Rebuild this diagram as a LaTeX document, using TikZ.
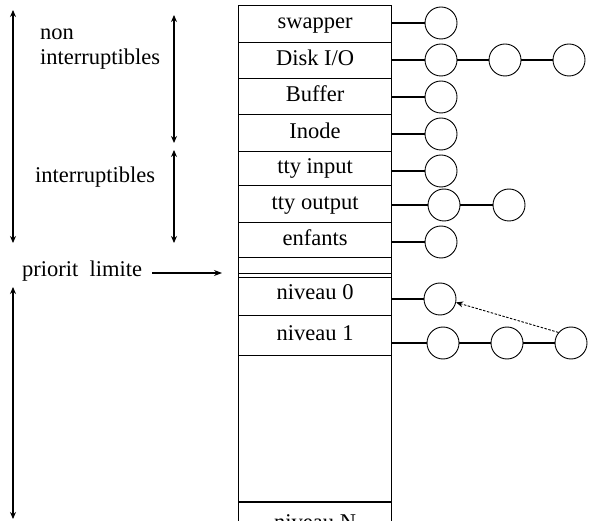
\documentclass[tikz,border=0pt]{standalone}
\usepackage{fontspec}
\setmainfont{Liberation Serif}
\usetikzlibrary{arrows.meta}
\begin{document}
\begin{tikzpicture}[x=1pt,y=-1pt,
  every node/.style={font=\fontsize{22.5}{26}\selectfont},
  row/.style={draw, line width=1.2pt, minimum width=153pt, inner sep=0pt,
    text height=15pt, text depth=5pt, anchor=north west},
  proc/.style={draw, circle, minimum size=32pt, inner sep=0pt, line width=0.9pt},
  link/.style={line width=1.1pt},
  span/.style={line width=1.3pt, {Stealth[length=7pt,width=6pt]}-{Stealth[length=7pt,width=6pt]}},
  tip/.style={line width=1.1pt, -{Stealth[length=8pt,width=6pt]}},
  label/.style={anchor=base west, inner sep=0pt},
]
\clip (0,0) rectangle (589,521);

% priority table
\node[row, minimum height=36.7pt] (swapper) at (238,5)   {swapper};
\node[row, minimum height=36.3pt] (disk)    at (238,41.7){Disk I/O};
\node[row, minimum height=36pt]   (buffer)  at (238,78)  {Buffer};
\node[row, minimum height=37pt]   (inode)   at (238,114) {Inode};
\node[row, minimum height=34pt]   (ttyin)   at (238,151) {tty input};
\node[row, minimum height=37pt]   (ttyout)  at (238,185) {tty output};
\node[row, minimum height=35pt]   (enfants) at (238,222) {enfants};
\node[row, minimum height=16pt]   (limit)   at (238,257) {};
\node[row, minimum height=42pt]   (niv0)    at (238,273) {niveau 0};
\node[row, minimum height=40pt]   (niv1)    at (238,315) {niveau 1};
\node[row, minimum height=147pt]  (gap)     at (238,355) {};
\node[row, minimum height=44pt]   (nivN)    at (238,502) {niveau N};
\draw[line width=2.2pt] (nivN.north west) -- (nivN.north east);

% process queues
\node[proc] (sw1) at (441,23)  {};
\node[proc] (dk1) at (441,60)  {};
\node[proc] (dk2) at (505,60)  {};
\node[proc] (dk3) at (569,60)  {};
\node[proc] (bf1) at (441,97)  {};
\node[proc] (in1) at (441,134) {};
\node[proc] (ti1) at (441,171) {};
\node[proc] (to1) at (444,205) {};
\node[proc] (to2) at (509,205) {};
\node[proc] (en1) at (441,242) {};
\node[proc] (n01) at (440,299) {};
\node[proc] (n11) at (443,343) {};
\node[proc] (n12) at (507,343) {};
\node[proc] (n13) at (571,343) {};

\draw[link] (swapper.east |- sw1) -- (sw1);
\draw[link] (disk.east |- dk1) -- (dk1) -- (dk2) -- (dk3);
\draw[link] (buffer.east |- bf1) -- (bf1);
\draw[link] (inode.east |- in1) -- (in1);
\draw[link] (ttyin.east |- ti1) -- (ti1);
\draw[link] (ttyout.east |- to1) -- (to1) -- (to2);
\draw[link] (enfants.east |- en1) -- (en1);
\draw[link] (niv0.east |- n01) -- (n01);
\draw[link] (niv1.east |- n11) -- (n11) -- (n12) -- (n13);
\draw[line width=0.9pt, dash pattern=on 2.5pt off 1.5pt, -{Stealth[length=7pt,width=6pt]}]
  (n13.140) -- (n01.-12);

% priority ranges on the left
\coordinate (a1) at (13,10);   \coordinate (a2) at (13,243);
\coordinate (b1) at (174,15);  \coordinate (b2) at (174,143);
\coordinate (c1) at (174,150); \coordinate (c2) at (174,243);
\coordinate (d1) at (13,287);  \coordinate (d2) at (13,519);
\draw[span] (a1) -- (a2);
\draw[span] (b1) -- (b2);
\draw[span] (c1) -- (c2);
\draw[span] (d1) -- (d2);

\node[label] (non) at (40,40) {non};
\node[label] (nonint) at (40,65) {interruptibles};
\node[label] (inter) at (35,183) {interruptibles};
\node[label] (prio) at (22,277) {priorit~~limite};
\coordinate (pend) at (222,273);
\draw[tip] (prio.east |- pend) ++(10,0) -- (pend);
\end{tikzpicture}
\end{document}
